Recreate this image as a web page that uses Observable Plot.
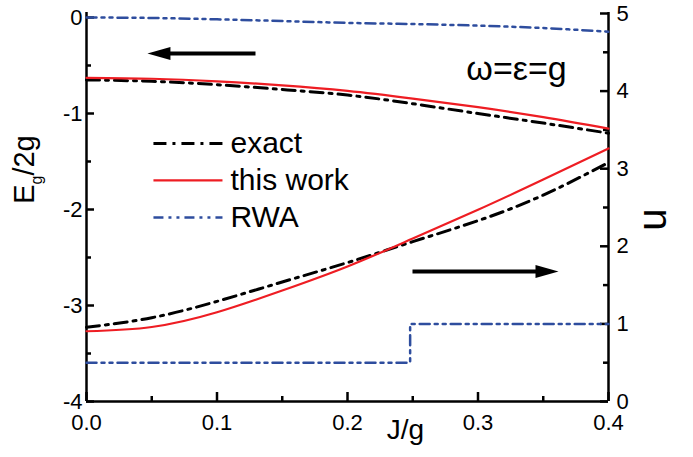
<!DOCTYPE html>
<html><head><meta charset="utf-8">
<script src="https://cdn.jsdelivr.net/npm/d3@7"></script>
<script src="https://cdn.jsdelivr.net/npm/@observablehq/plot@0.6"></script>
<style>
html,body{margin:0;padding:0;background:#fff;}
#chart{width:693px;height:457px;}
</style></head><body><div id="chart"></div>
<script>
// ---- data ----
const J = [0, 0.05, 0.1, 0.15, 0.2, 0.25, 0.3, 0.35, 0.4];
// ground-state energy Eg/2g (left axis)
const exactE    = [-0.650, -0.665, -0.700, -0.750, -0.808, -0.898, -1.000, -1.100, -1.205];
const thisWorkE = [-0.628, -0.638, -0.665, -0.707, -0.765, -0.845, -0.934, -1.038, -1.158];
const rwaE      = [0, -0.005, -0.019, -0.037, -0.056, -0.068, -0.085, -0.110, -0.148];
// u (right axis)
const exactU    = [0.957, 1.08, 1.29, 1.54, 1.79, 2.06, 2.33, 2.66, 3.08];
const thisWorkU = [0.905, 0.96, 1.15, 1.43, 1.74, 2.10, 2.47, 2.86, 3.26];
const rwaStepJ  = [0, 0.248, 0.4];
const rwaStepU  = [0.5, 1, 1];
// axes
const xMajor = [0, 0.1, 0.2, 0.3, 0.4];
const xMinor = [0.05, 0.15, 0.25, 0.35];
const eMajor = [-4, -3, -2, -1, 0];
const eMinor = [-3.5, -2.5, -1.5, -0.5];
const uMajor = [0, 1, 2, 3, 4, 5];
const uMinor = [0.5, 1.5, 2.5, 3.5, 4.5];
// legend and annotations
const seriesNames = ["exact", "this work", "RWA"];
const annotation = "ω=ε=g";
const arrowTailJ = [0.1295, 0.2498];
const arrowTipJ  = [0.0467, 0.3617];
const arrowLevel = [-0.375, null]; // left arrow in E units
const arrowLevelU = [null, 1.675]; // right arrow in u units

// ---- layout ----
const W = 693, H = 457, mL = 86, mR = 85, mT = 12, mB = 56;
const plotW = W - mL - mR, plotH = H - mT - mB;
const uToE = u => -4 + u * 0.80833;   // right axis -> left axis units

const styles = {
  exact:    {stroke: "#000000", strokeWidth: 3,   strokeDasharray: "13,6,3,6"},
  thisWork: {stroke: "#ee1d23", strokeWidth: 2.2},
  rwa:      {stroke: "#2e4d9e", strokeWidth: 2.5, strokeDasharray: "10,5,3,5,3,5"}
};
const legendStyles = [styles.exact, styles.thisWork, styles.rwa];
const legendX1 = 0.0513, legendX2 = 0.1042, legendTX = 0.1103;
const legendRowE = i => -1.3125 - i * 0.385;

const arrowHead = { draw(ctx) { ctx.moveTo(0, 0); ctx.lineTo(-23, -6.5); ctx.lineTo(-23, 6.5); ctx.closePath(); } };
const arrowY = i => arrowLevel[i] != null ? arrowLevel[i] : uToE(arrowLevelU[i]);
const shaftEnd = i => arrowTipJ[i] + (arrowTipJ[i] < arrowTailJ[i] ? 0.012 : -0.012);

const ink = "#000";
const tickFont = 22;
const chart = Plot.plot({
  width: W, height: H,
  marginLeft: mL, marginRight: mR, marginTop: mT, marginBottom: mB,
  style: {fontFamily: "'Liberation Sans', Arial, Helvetica, sans-serif", fontSize: "22px", color: ink, background: "#fff"},
  x: {type: "linear", domain: [0, 0.4], axis: null},
  y: {type: "linear", domain: [-4, 0.052], axis: null},
  marks: [
    // frame lines
    Plot.ruleX([0, 0.4], {stroke: ink, strokeWidth: 2.5}),
    Plot.ruleY([-4], {stroke: ink, strokeWidth: 2.5}),
    // inward ticks
    Plot.tickX(xMajor, {x: d => d, stroke: ink, strokeWidth: 2.5, insetTop: plotH - 9}),
    Plot.tickX(xMinor, {x: d => d, stroke: ink, strokeWidth: 2.5, insetTop: plotH - 5}),
    Plot.tickY(eMajor, {y: d => d, stroke: ink, strokeWidth: 2.5, insetRight: plotW - 8}),
    Plot.tickY(eMinor, {y: d => d, stroke: ink, strokeWidth: 2.5, insetRight: plotW - 5}),
    Plot.tickY(uMajor, {y: d => uToE(d), stroke: ink, strokeWidth: 2.5, insetLeft: plotW - 8}),
    Plot.tickY(uMinor, {y: d => uToE(d), stroke: ink, strokeWidth: 2.5, insetLeft: plotW - 5}),
    // tick labels
    Plot.text(xMajor, {x: d => d, frameAnchor: "bottom", lineAnchor: "top", dy: 13, text: d3.format(".1f"), fontSize: tickFont, fill: ink}),
    Plot.text(eMajor, {y: d => d, frameAnchor: "left", textAnchor: "end", lineAnchor: "middle", dx: -4, text: d => String(d), fontSize: tickFont, fill: ink}),
    Plot.text(uMajor, {y: d => uToE(d), frameAnchor: "right", textAnchor: "start", lineAnchor: "middle", dx: 8, text: d => String(d), fontSize: tickFont, fill: ink}),
    // axis titles
    Plot.text(["J/g"], {frameAnchor: "bottom", dx: 58, dy: 37, fontSize: 28, fill: ink}),
    Plot.text(["Eg/2g"], {x: -0.0475, y: -1.584, lineAnchor: "middle", rotate: -90, fontSize: 29, fill: ink}),
    Plot.text(["u"], {x: 0.4345, y: -2.105, lineAnchor: "middle", rotate: -90, fontSize: 40, fill: ink}),
    // data lines
    Plot.line(J, {x: d => d, y: (d, i) => rwaE[i], curve: "natural", ...styles.rwa}),
    Plot.line(rwaStepJ, {x: d => d, y: (d, i) => uToE(rwaStepU[i]), curve: "step-after", ...styles.rwa}),
    Plot.line(J, {x: d => d, y: (d, i) => exactE[i], curve: "natural", ...styles.exact}),
    Plot.line(J, {x: d => d, y: (d, i) => thisWorkE[i], curve: "natural", ...styles.thisWork}),
    Plot.line(J, {x: d => d, y: (d, i) => uToE(exactU[i]), curve: "natural", ...styles.exact}),
    Plot.line(J, {x: d => d, y: (d, i) => uToE(thisWorkU[i]), curve: "natural", ...styles.thisWork}),
    // legend
    ...seriesNames.map((name, i) => Plot.link([name], {x1: legendX1, x2: legendX2, y1: legendRowE(i), y2: legendRowE(i), ...legendStyles[i]})),
    Plot.text(seriesNames, {x: legendTX, y: (d, i) => legendRowE(i), text: d => d, textAnchor: "start", lineAnchor: "middle", fontSize: 30, fill: ink}),
    // annotation
    Plot.text([annotation], {frameAnchor: "top", lineAnchor: "middle", dx: 169, dy: 57, fontSize: 34, fill: ink}),
    // arrows
    Plot.link([0, 1], {x1: i => arrowTailJ[i], x2: i => shaftEnd(i), y1: i => arrowY(i), y2: i => arrowY(i), stroke: ink, strokeWidth: 4}),
    Plot.dot([0, 1], {x: i => arrowTipJ[i], y: i => arrowY(i), symbol: arrowHead, fill: ink, stroke: "none", rotate: i => arrowTipJ[i] < arrowTailJ[i] ? 180 : 0})
  ]
});

// subscript g in the left axis title
for (const t of chart.querySelectorAll("text")) {
  if (t.textContent === "Eg/2g") {
    const ns = "http://www.w3.org/2000/svg";
    t.textContent = "";
    const parts = [["E", null, null], ["g", "0.55em", "8"], ["/2g", null, "-8"]];
    for (const [s, fs, dy] of parts) {
      const sp = document.createElementNS(ns, "tspan");
      sp.textContent = s;
      if (fs) sp.setAttribute("font-size", fs);
      if (dy) sp.setAttribute("dy", dy);
      t.appendChild(sp);
    }
  }
}
document.getElementById("chart").appendChild(chart);
</script>
</body></html>
